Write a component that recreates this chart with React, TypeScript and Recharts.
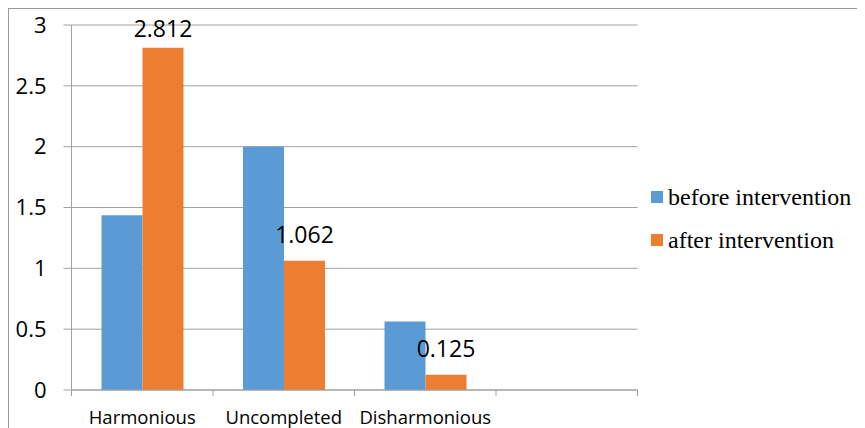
import React from 'react';
import { BarChart, Bar, XAxis, YAxis, CartesianGrid, LabelList } from 'recharts';

// Categories and series values
const categories = ['Harmonious', 'Uncompleted', 'Disharmonious', ''];
const beforeValues: (number | null)[] = [1.437, 2, 0.562, null];
const afterValues: (number | null)[] = [2.812, 1.062, 0.125, null];
const yTicks = [0, 0.5, 1, 1.5, 2, 2.5, 3];
const seriesNames = ['before intervention', 'after intervention'];
const seriesColors = ['#5B9BD5', '#ED7D31'];

const data = categories.map((name, i) => ({
  name,
  before: beforeValues[i],
  after: afterValues[i],
}));

// Layout
const CHART_W = 856;
const CHART_H = 419;
const MARGIN = { top: 16, right: 227.5, bottom: 0, left: 0 };
const Y_AXIS_W = 62.5;
const X_AXIS_H = 38;
const PLOT_W = CHART_W - MARGIN.left - MARGIN.right - Y_AXIS_W;
const BAND = PLOT_W / categories.length;
const TICK_LEN = 6;
const GRID = '#a0a0a0';
const SANS = '"Open Sans", sans-serif';
const SERIF = '"Liberation Serif", "Times New Roman", serif';

// Category label, with tick marks placed between categories
function CategoryTick(props: any) {
  const { x, y, payload, index } = props;
  const axisY = y - TICK_LEN;
  const left = x - BAND / 2;
  const right = x + BAND / 2;
  return (
    <g>
      <line x1={left} x2={left} y1={axisY} y2={axisY + TICK_LEN} stroke={GRID} />
      {index === categories.length - 1 && (
        <line x1={right} x2={right} y1={axisY} y2={axisY + TICK_LEN} stroke={GRID} />
      )}
      <text
        x={x}
        y={axisY + 33.5}
        textAnchor="middle"
        fontFamily={SANS}
        fontSize={18.5}
        fill="#000"
      >
        {payload.value}
      </text>
    </g>
  );
}

// Value label above each bar, kept inside the plot's top edge
function ValueLabel(props: any) {
  const { x, y, width, value } = props;
  if (value == null) return null;
  const baseline = Math.max(y - 18, MARGIN.top + 12);
  return (
    <text
      x={x + width / 2}
      y={baseline}
      textAnchor="middle"
      fontFamily={SANS}
      fontSize={23}
      fill="#000"
    >
      {value}
    </text>
  );
}

function LegendBox() {
  return (
    <div
      style={{
        position: 'absolute',
        left: 642,
        top: 166.5,
        fontFamily: SERIF,
        fontSize: 24,
        color: '#000',
      }}
    >
      {seriesNames.map((name, i) => (
        <div
          key={name}
          style={{ display: 'flex', alignItems: 'center', height: 43, whiteSpace: 'nowrap' }}
        >
          <span
            style={{
              display: 'inline-block',
              width: 12,
              height: 12,
              background: seriesColors[i],
              marginRight: 5,
            }}
          />
          <span style={{ lineHeight: '24px' }}>{name}</span>
        </div>
      ))}
    </div>
  );
}

export default function App() {
  return (
    <div
      style={{
        position: 'relative',
        width: CHART_W,
        height: CHART_H,
        borderTop: '1px solid #999',
        borderLeft: '1px solid #999',
      }}
    >
      <style>{'html,body{overflow:hidden}'}</style>
      <BarChart
        width={CHART_W}
        height={CHART_H}
        data={data}
        margin={MARGIN}
        barCategoryGap="21.2%"
        barGap={0}
      >
        <CartesianGrid vertical={false} stroke={GRID} />
        <XAxis
          dataKey="name"
          height={X_AXIS_H}
          interval={0}
          axisLine={{ stroke: GRID }}
          tickLine={false}
          tickSize={TICK_LEN}
          tickMargin={0}
          tick={<CategoryTick />}
        />
        <YAxis
          type="number"
          domain={[0, 3]}
          ticks={yTicks}
          width={Y_AXIS_W}
          axisLine={{ stroke: GRID }}
          tickLine={{ stroke: GRID }}
          tickSize={8}
          tickMargin={17}
          tick={{ fontFamily: SANS, fontSize: 22, fill: '#000' }}
        />
        <Bar dataKey="before" name={seriesNames[0]} fill={seriesColors[0]} isAnimationActive={false} />
        <Bar dataKey="after" name={seriesNames[1]} fill={seriesColors[1]} isAnimationActive={false}>
          <LabelList dataKey="after" content={<ValueLabel />} />
        </Bar>
      </BarChart>
      <LegendBox />
    </div>
  );
}
